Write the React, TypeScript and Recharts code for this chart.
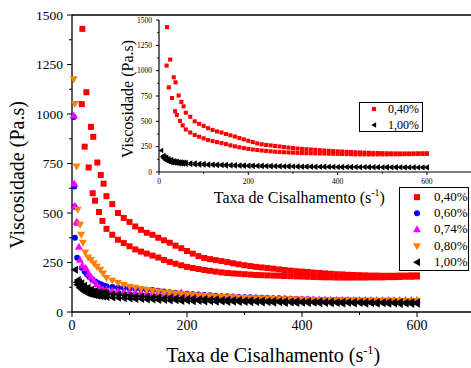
import React from 'react';
import { ScatterChart, Scatter, XAxis, YAxis, Legend, Label, ReferenceLine } from 'recharts';

const FONT = '"Liberation Serif", "Times New Roman", Times, serif';

const concentrations = ['0,40%', '0,60%', '0,74%', '0,80%', '1,00%'];
const xTicks = [0, 100, 200, 300, 400, 500, 600, 700];
const yTicks = [0, 125, 250, 375, 500, 625, 750, 875, 1000, 1125, 1250, 1375, 1500];

// shear rate (s-1) of the steady part of each sweep
const rates = [60, 70, 80, 90, 100, 110, 120, 130, 140, 150, 160, 170, 180, 190, 200, 210, 220, 230, 240, 250, 260, 270, 280, 290, 300, 310, 320, 330, 340, 350, 360, 370, 380, 390, 400, 410, 420, 430, 440, 450, 460, 470, 480, 490, 500, 510, 520, 530, 540, 550, 560, 570, 580, 590, 600];

// first readings [rate, viscosity] before the curves settle
const head040 = [[18, 1430], [25, 1110], [33, 935], [37, 885], [44, 755], [50, 692], [55, 648], [17, 1050], [22, 835], [29, 730], [36, 600], [40, 562], [47, 505], [53, 460]];
const up040 = [585, 545, 500, 475, 455, 432, 415, 400, 390, 375, 362, 350, 335, 322, 308, 295, 282, 273, 267, 262, 257, 252, 246, 241, 236, 232, 228, 225, 222, 219, 215, 212, 209, 206, 204, 202, 199, 197, 195, 193, 191, 190, 188, 187, 186, 185, 184, 184, 183, 183, 183, 184, 184, 185, 185];
const down040 = [420, 390, 365, 348, 332, 316, 305, 295, 285, 275, 263, 253, 244, 236, 228, 222, 217, 212, 208, 204, 200, 197, 195, 193, 191, 189, 187, 186, 185, 184, 183, 182, 181, 180, 179, 178, 177, 176, 175, 175, 174, 174, 174, 174, 174, 174, 175, 175, 175, 176, 176, 177, 178, 178, 179];

const head060 = [[3, 985], [4, 634], [4.5, 532], [5, 375], [9, 274], [17, 223], [22, 205], [26, 190], [30, 178], [35, 165], [40, 155], [45, 147], [50, 140], [55, 134]];
const tail060 = [130, 126, 123, 121, 119, 117, 115, 113, 111, 107, 103, 100, 97, 94, 92, 90, 88, 86, 84, 82, 80, 79, 77, 76, 75, 74, 73, 72, 71, 70, 69, 68, 67, 66, 65, 64, 63, 62, 61, 60, 60, 59, 59, 58, 58, 58, 57, 57, 57, 56, 56, 56, 56, 55, 55];

const head074 = [[3, 993], [4, 649], [5, 537], [8, 456], [10, 451], [12, 330], [14, 264], [18, 235], [24, 222], [29, 195], [33, 178], [38, 160], [43, 140], [48, 125], [54, 115]];
const tail074 = [112, 108, 105, 102, 100, 98, 97, 96, 95, 94, 93, 92, 91, 98, 88, 85, 86, 81, 79, 77, 76, 74, 77, 72, 71, 70, 69, 68, 68, 67, 66, 66, 65, 65, 64, 64, 63, 63, 63, 62, 62, 62, 62, 61, 61, 61, 61, 61, 60, 60, 60, 60, 61, 60, 60];

const head080 = [[3, 1176], [5, 1050], [8, 735], [10, 517], [14, 441], [16, 390], [19, 350], [23, 300], [28, 275], [33, 262], [38, 245], [43, 228], [49, 213], [54, 195]];
const tail080 = [172, 158, 146, 136, 128, 122, 116, 111, 107, 103, 99, 96, 93, 90, 87, 85, 83, 81, 79, 77, 76, 74, 73, 72, 71, 70, 69, 68, 67, 66, 65, 64, 64, 63, 62, 62, 61, 61, 60, 60, 59, 59, 59, 58, 58, 58, 58, 57, 57, 57, 57, 56, 56, 56, 56];

const head100 = [[5, 213], [8, 150], [10, 162], [12, 150], [14, 138], [16, 145], [18, 128], [21, 132], [24, 118], [27, 122], [30, 110], [33, 112], [36, 104], [40, 106], [44, 99], [48, 100], [52, 96], [56, 97], [9, 138], [13, 122], [17, 112], [21, 104], [25, 97], [29, 92], [34, 88], [39, 85], [44, 82], [49, 80], [54, 78]];
const up100 = [95, 90, 89, 84, 83, 79, 78, 77, 74, 74, 71, 72, 69, 70, 67, 68, 65, 66, 63, 64, 61, 62, 60, 61, 58, 59, 57, 58, 56, 57, 55, 56, 54, 55, 53, 54, 52, 54, 52, 53, 51, 52, 51, 52, 50, 51, 50, 51, 49, 50, 49, 50, 48, 50, 49];
const down100 = [76, 73, 72, 69, 68, 66, 66, 63, 63, 60, 61, 58, 59, 56, 57, 54, 56, 53, 54, 52, 53, 51, 52, 50, 51, 49, 50, 48, 49, 47, 49, 46, 48, 46, 47, 45, 47, 44, 46, 44, 46, 43, 45, 43, 45, 42, 44, 42, 44, 42, 43, 41, 43, 41, 42];

const toPoints = (head: number[][], tails: number[][]) => [
  ...head.map(([x, y]) => ({ x, y })),
  ...tails.flatMap((t) => t.map((y, i) => ({ x: rates[i], y }))),
];

const series = [
  { name: concentrations[0], color: '#ff0000', kind: 'square', data: toPoints(head040, [up040, down040]) },
  { name: concentrations[1], color: '#0000ff', kind: 'circle', data: toPoints(head060, [tail060]) },
  { name: concentrations[2], color: '#ff00ff', kind: 'up', data: toPoints(head074, [tail074]) },
  { name: concentrations[3], color: '#ff8000', kind: 'down', data: toPoints(head080, [tail080]) },
  { name: concentrations[4], color: '#000000', kind: 'left', data: toPoints(head100, [up100, down100]) },
];
const insetSeries = series.filter((s) => s.name === '0,40%' || s.name === '1,00%');

function Marker({ cx, cy, kind, size, color }: any) {
  const h = size / 2;
  if (kind === 'square') return <rect x={cx - h} y={cy - h} width={size} height={size} fill={color} />;
  if (kind === 'circle') return <circle cx={cx} cy={cy} r={h} fill={color} />;
  const pts =
    kind === 'up'
      ? [[0, -h], [h, h * 0.75], [-h, h * 0.75]]
      : kind === 'down'
      ? [[-h, -h * 0.75], [h, -h * 0.75], [0, h]]
      : [[-h, 0], [h * 0.75, -h], [h * 0.75, h]];
  return <polygon points={pts.map(([dx, dy]) => `${cx + dx},${cy + dy}`).join(' ')} fill={color} />;
}

const markerSize = (kind: string, scale: number) => (kind === 'square' || kind === 'circle' ? 6 : 8) * scale;

const leftTick = (font: number, len: number, gap: number) => (p: any) => {
  const v = p.payload.value;
  const major = v % 250 === 0;
  const ax = p.x + len + gap;
  return (
    <g>
      <line x1={ax - (major ? len : len * 0.6)} x2={ax} y1={p.y} y2={p.y} stroke="#000" />
      {major && (
        <text x={p.x} y={p.y} dy="0.35em" textAnchor="end" fontSize={font} fontFamily={FONT} fill="#000">
          {v}
        </text>
      )}
    </g>
  );
};

const bottomTick = (font: number, len: number, gap: number) => (p: any) => {
  const v = p.payload.value;
  const major = v % 200 === 0;
  const ay = p.y - len - gap;
  return (
    <g>
      <line x1={p.x} x2={p.x} y1={ay} y2={ay + (major ? len : len * 0.6)} stroke="#000" />
      {major && (
        <text x={p.x} y={p.y} dy="0.71em" textAnchor="middle" fontSize={font} fontFamily={FONT} fill="#000">
          {v}
        </text>
      )}
    </g>
  );
};

const xTitle = (font: number, baseline: number, dx: number) => (p: any) => {
  const { x, y, width } = p.viewBox;
  return (
    <text x={x + width / 2 + dx} y={y + baseline} textAnchor="middle" fontSize={font} fontFamily={FONT} fill="#000">
      Taxa de Cisalhamento (s
      <tspan dy={-font * 0.42} fontSize={font * 0.62}>-1</tspan>
      <tspan dy={font * 0.42}>)</tspan>
    </text>
  );
};

const yTitle = (font: number, baseX: number, centerY: number) => () => (
  <text
    x={baseX}
    y={centerY}
    transform={`rotate(-90, ${baseX}, ${centerY})`}
    textAnchor="middle"
    fontSize={font}
    fontFamily={FONT}
    fill="#000"
  >
    Viscosidade (Pa.s)
  </text>
);

const legendBox = (opts: { width: number; height: number; rowH: number; gap: number; padTop: number; markW: number; font: number; scale: number }) => (p: any) => (
  <div
    style={{
      boxSizing: 'border-box',
      width: opts.width,
      height: opts.height,
      border: '1px solid #000',
      background: '#fff',
      paddingTop: opts.padTop,
      fontFamily: FONT,
      fontSize: opts.font,
      color: '#000',
    }}
  >
    {(p.payload || []).map((entry: any) => {
      const s = series.find((q) => q.name === entry.value);
      if (!s) return null;
      return (
        <div key={s.name} style={{ display: 'flex', alignItems: 'center', height: opts.rowH, marginBottom: opts.gap }}>
          <svg width={opts.markW} height={opts.rowH} style={{ flex: 'none' }}>
            <Marker cx={opts.markW / 2} cy={opts.rowH / 2} kind={s.kind} size={markerSize(s.kind, opts.scale)} color={s.color} />
          </svg>
          <span style={{ lineHeight: `${opts.rowH}px`, whiteSpace: 'nowrap' }}>{s.name}</span>
        </div>
      );
    })}
  </div>
);

export default function App() {
  return (
    <div style={{ position: 'fixed', left: 0, top: 0, width: 471, height: 368, overflow: 'hidden', background: '#fff' }}>
      <div style={{ position: 'absolute', left: 0, top: 0 }}>
        <ScatterChart width={480} height={368} margin={{ top: 15, right: 5.5, bottom: 0, left: 0 }}>
          <XAxis
            type="number"
            dataKey="x"
            domain={[0, 700]}
            ticks={xTicks}
            interval={0}
            height={56}
            tickSize={5}
            tickMargin={3}
            tickLine={false}
            tick={bottomTick(14, 5, 3)}
            axisLine={{ stroke: '#000', strokeWidth: 1.3 }}
          >
            <Label content={xTitle(20, 50, 0)} />
          </XAxis>
          <YAxis
            type="number"
            dataKey="y"
            domain={[0, 1500]}
            ticks={yTicks}
            interval={0}
            width={72}
            tickSize={5}
            tickMargin={4}
            tickLine={false}
            tick={leftTick(13.5, 5, 4)}
            axisLine={{ stroke: '#000', strokeWidth: 1.3 }}
          >
            <Label content={yTitle(20, 24, 175)} />
          </YAxis>
          <ReferenceLine y={1500} stroke="#000" strokeWidth={1.3} />
          {series.map((s) => (
            <Scatter
              key={s.name}
              name={s.name}
              data={s.data}
              fill={s.color}
              isAnimationActive={false}
              shape={(p: any) => <Marker cx={p.cx} cy={p.cy} kind={s.kind} size={markerSize(s.kind, 1)} color={s.color} />}
            />
          ))}
          <Legend
            layout="vertical"
            align="center"
            verticalAlign="middle"
            wrapperStyle={{ left: 399, top: 187, width: 70, height: 84 }}
            content={legendBox({ width: 70, height: 84, rowH: 16.25, gap: 0, padTop: 0.9, markW: 34, font: 13, scale: 1 })}
          />
        </ScatterChart>
      </div>
      <div style={{ position: 'absolute', left: 0, top: 0 }}>
        <ScatterChart width={480} height={210} margin={{ top: 20, right: 8.4, bottom: 0, left: 119 }}>
          <XAxis
            type="number"
            dataKey="x"
            domain={[0, 700]}
            ticks={xTicks}
            interval={0}
            height={38}
            tickSize={3}
            tickMargin={4}
            tickLine={false}
            tick={bottomTick(7.5, 3, 4)}
            axisLine={{ stroke: '#000', strokeWidth: 1.2 }}
          >
            <Label content={xTitle(16, 31, -16)} />
          </XAxis>
          <YAxis
            type="number"
            dataKey="y"
            domain={[0, 1500]}
            ticks={yTicks}
            interval={0}
            width={40}
            tickSize={3}
            tickMargin={4}
            tickLine={false}
            tick={leftTick(7.5, 3, 4)}
            axisLine={{ stroke: '#000', strokeWidth: 1.2 }}
          >
            <Label content={yTitle(16, 133, 99)} />
          </YAxis>
          {insetSeries.map((s) => (
            <Scatter
              key={s.name}
              name={s.name}
              data={s.data}
              fill={s.color}
              isAnimationActive={false}
              shape={(p: any) => <Marker cx={p.cx} cy={p.cy} kind={s.kind} size={markerSize(s.kind, 0.68)} color={s.color} />}
            />
          ))}
          <Legend
            layout="vertical"
            align="center"
            verticalAlign="middle"
            wrapperStyle={{ left: 359, top: 102, width: 64, height: 30 }}
            content={legendBox({ width: 64, height: 30, rowH: 12, gap: 3.7, padTop: 0, markW: 28, font: 12, scale: 0.7 })}
          />
        </ScatterChart>
      </div>
    </div>
  );
}
